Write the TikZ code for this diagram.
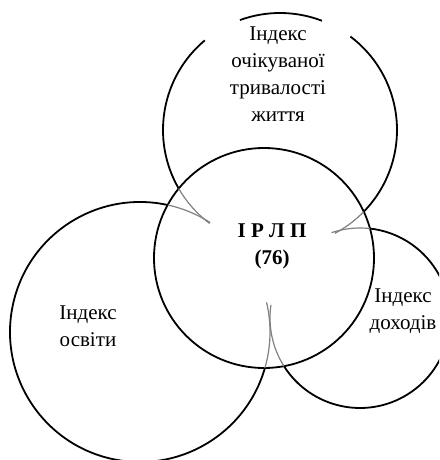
\documentclass[tikz,border=0pt]{standalone}
\usepackage{fontspec}
\setmainfont{Liberation Serif}
\usepackage{tikz}
\usetikzlibrary{positioning}

\begin{document}
\begin{tikzpicture}[x=1pt, y=1pt,
        ring/.style={draw=black, line width=1.8pt},
        tail/.style={draw=gray, line width=1.2pt},
        txt/.style={align=center, font=\fontsize{21}{27}\selectfont}]
    \useasboundingbox (0,0) rectangle (439,460);
    \clip (0,0) rectangle (439,460);

    \coordinate (mid) at (264,202);
    \coordinate (life) at (280,330);
    \coordinate (edu) at (140,128);
    \coordinate (inc) at (360,142);

    \draw[ring] (mid) circle[radius=110];

    \draw[tail] (life) ++(-62:117) arc[start angle=-62, end angle=-44.3, radius=117];
    \draw[ring] (life) ++(-44.3:117) arc[start angle=-44.3, end angle=53, radius=117];
    \draw[ring] (life) ++(69:117) arc[start angle=69, end angle=110, radius=117];
    \draw[ring] (life) ++(130:117) arc[start angle=130, end angle=210, radius=117];
    \draw[tail] (life) ++(210:117) arc[start angle=210, end angle=233, radius=117];

    \draw[tail] (edu) ++(57.3:130) arc[start angle=57.3, end angle=77.7, radius=130];
    \draw[ring] (edu) ++(77.7:130) arc[start angle=77.7, end angle=343.9, radius=130];
    \draw[tail] (edu) ++(-16.1:130) arc[start angle=-16.1, end angle=13.2, radius=130];

    \draw[ring] (inc) ++(-147.6:90) arc[start angle=-147.6, end angle=83.6, radius=90];
    \draw[tail] (inc) ++(83.6:90) arc[start angle=83.6, end angle=108.4, radius=90];
    \draw[tail] (inc) ++(171.6:90) arc[start angle=171.6, end angle=212.4, radius=90];

    \node[txt] (lifetxt) at (278,386) {Індекс\\очікуваної\\тривалості\\життя};
    \node[txt] (edutxt) at (88,134) {Індекс\\освіти};
    \node[txt] (inctxt) at (403,149) {Індекс\\доходів};
    \node[txt, font=\bfseries\fontsize{21}{27}\selectfont] (hdi) at (272,214) {І Р Л П\\(76)};
\end{tikzpicture}
\end{document}
